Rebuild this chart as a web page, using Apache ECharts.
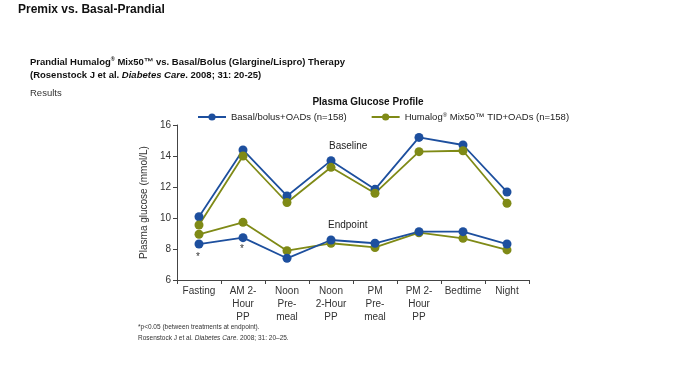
<!DOCTYPE html>
<html>
<head>
<meta charset="utf-8">
<script src="https://cdn.jsdelivr.net/npm/echarts@6/dist/echarts.min.js"></script>
<style>
  html, body { margin: 0; padding: 0; background: #fff; }
  #chart { width: 700px; height: 375px; }
</style>
</head>
<body>
<div id="chart"></div>
<script>
// time points
var categories = ['Fasting', 'AM 2-\nHour\nPP', 'Noon\nPre-\nmeal', 'Noon\n2-Hour\nPP', 'PM\nPre-\nmeal', 'PM 2-\nHour\nPP', 'Bedtime', 'Night'];

// baseline values (mmol/L)
var basalBaseline = [10.08, 14.39, 11.42, 13.70, 11.85, 15.20, 14.71, 11.68];
var premixBaseline = [9.55, 14.00, 11.00, 13.27, 11.60, 14.28, 14.34, 10.95];

// endpoint values
var basalEndpoint = [8.32, 8.73, 7.40, 8.58, 8.37, 9.12, 9.12, 8.32];
var premixEndpoint = [8.95, 9.72, 7.89, 8.37, 8.10, 9.05, 8.69, 7.94];

var yTicks = [6, 8, 10, 12, 14, 16];

var blue = '#1d4f9e';
var olive = '#7f8a16';
var basalName = 'Basal/bolus+OADs (n=158)';
var premixName = 'Humalog® Mix50™ TID+OADs (n=158)';

var myChart = echarts.init(document.getElementById('chart'));

function line(name, data, color) {
    return {
        name: name,
        type: 'line',
        data: data,
        symbol: 'circle',
        symbolSize: 9,
        lineStyle: { color: color, width: 1.8 },
        itemStyle: { color: color },
        animation: false
    };
}

var option = {
    backgroundColor: '#fff',
    textStyle: { fontFamily: 'Liberation Sans, Arial, sans-serif' },
    title: {
        text: 'Plasma Glucose Profile',
        left: 363,
        top: 92,
        textAlign: 'center',
        textStyle: { fontSize: 10, fontWeight: 'bold', color: '#111' }
    },
    legend: {
        top: 107,
        left: 192,
        itemGap: 24,
        itemWidth: 28,
        itemHeight: 9,
        data: [basalName, premixName],
        formatter: function (n) {
            if (n === premixName) return 'Humalog{s|®} Mix50™ TID+OADs (n=158)';
            return n;
        },
        textStyle: {
            fontSize: 9.5,
            color: '#222',
            rich: { s: { fontSize: 6, verticalAlign: 'top', color: '#222' } }
        }
    },
    grid: { left: 177, right: 171, top: 125, bottom: 95 },
    xAxis: {
        type: 'category',
        data: categories,
        boundaryGap: true,
        axisLine: { lineStyle: { color: '#444', width: 1 } },
        axisTick: { show: true, inside: false, length: 4, lineStyle: { color: '#444' } },
        axisLabel: { color: '#333', fontSize: 10, lineHeight: 13, margin: 5, interval: 0 }
    },
    yAxis: {
        type: 'value',
        min: 6,
        max: 16,
        interval: 2,
        name: 'Plasma glucose (mmol/L)',
        nameLocation: 'middle',
        nameGap: 26,
        nameTextStyle: { fontSize: 10, color: '#333' },
        splitLine: { show: false },
        axisLine: { show: true, lineStyle: { color: '#444', width: 1 } },
        axisTick: { show: true, length: 4, lineStyle: { color: '#444' } },
        axisLabel: {
            color: '#333', fontSize: 10, margin: 6,
            formatter: function (v) { return yTicks.indexOf(v) >= 0 ? v : ''; }
        }
    },
    series: [
        line(basalName, basalBaseline, blue),
        line(premixName, premixBaseline, olive),
        line(premixName, premixEndpoint, olive),
        line(basalName, basalEndpoint, blue)
    ],
    graphic: [
        { type: 'text', left: 18, top: 4, style: { text: 'Premix vs. Basal-Prandial', fontSize: 12, fontWeight: 'bold', fill: '#111', fontFamily: 'Liberation Sans' } },
        { type: 'text', left: 30, top: 56, style: {
            text: 'Prandial Humalog{s|®} Mix50™ vs. Basal/Bolus (Glargine/Lispro) Therapy\n(Rosenstock J et al. {i|Diabetes Care}. 2008; 31: 20-25)',
            fontSize: 9.5, fontWeight: 'bold', lineHeight: 13, fill: '#111', fontFamily: 'Liberation Sans',
            rich: {
                s: { fontSize: 5.5, verticalAlign: 'top', fontWeight: 'bold', fill: '#111' },
                i: { fontStyle: 'italic', fontWeight: 'bold', fontSize: 9.5, fill: '#111' }
            }
        } },
        { type: 'text', left: 30, top: 88, style: { text: 'Results', fontSize: 9.5, fill: '#333', fontFamily: 'Liberation Sans' } },
        { type: 'text', left: 329, top: 141, style: { text: 'Baseline', fontSize: 10, fill: '#222', fontFamily: 'Liberation Sans' } },
        { type: 'text', left: 328, top: 220, style: { text: 'Endpoint', fontSize: 10, fill: '#222', fontFamily: 'Liberation Sans' } },
        { type: 'text', left: 196, top: 252, style: { text: '*', fontSize: 10, fill: '#333', fontFamily: 'Liberation Sans' } },
        { type: 'text', left: 240, top: 244, style: { text: '*', fontSize: 10, fill: '#333', fontFamily: 'Liberation Sans' } },
        { type: 'text', left: 138, top: 322, style: {
            text: '*p<0.05 (between treatments at endpoint).\nRosenstock J et al. {i|Diabetes Care}. 2008; 31: 20–25.',
            fontSize: 6.5, lineHeight: 11, fill: '#333', fontFamily: 'Liberation Sans',
            rich: { i: { fontStyle: 'italic', fontSize: 6.5, fill: '#333' } }
        } }
    ]
};

myChart.setOption(option);
window.addEventListener('resize', function () {
    myChart.resize();
});
</script>
</body>
</html>
